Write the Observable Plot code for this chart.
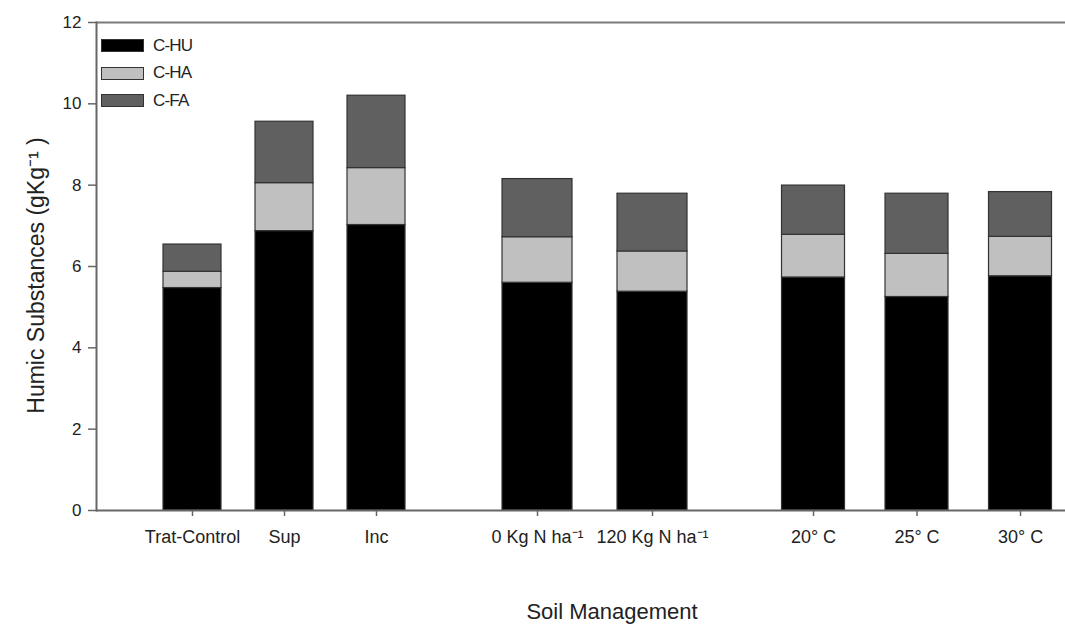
<!DOCTYPE html>
<html><head><meta charset="utf-8">
<script src="https://cdn.jsdelivr.net/npm/d3@7"></script>
<script src="https://cdn.jsdelivr.net/npm/@observablehq/plot@0.6"></script>
<style>
body{margin:0;background:#fff;font-family:"Liberation Sans",Arial,sans-serif;}
#wrap{position:relative;width:1065px;height:626px;}
#legend{position:absolute;left:101px;top:32px;}
.row{display:flex;align-items:center;height:27.5px;}
.sw{width:41px;height:11px;border:1.6px solid #333;box-sizing:content-box;}
.lb{margin-left:9px;font-size:17px;color:#222;letter-spacing:-0.8px;}
</style></head><body><div id="wrap"><div id="chart"></div><div id="legend"></div></div>
<script>
// ---- data ----
const groups = [["Trat-Control","Sup","Inc"],["0 Kg N ha⁻¹","120 Kg N ha⁻¹"],["20° C","25° C","30° C"]];
const categories = groups.flat();
const seriesNames = ["C-HU","C-HA","C-FA"];
const cHU = [5.47,6.87,7.02,5.60,5.38,5.73,5.25,5.76];
const cHA = [0.40,1.18,1.40,1.12,0.99,1.05,1.06,0.97];
const cFA = [0.67,1.51,1.78,1.43,1.42,1.21,1.48,1.10];
const yTicks = [0,2,4,6,8,10,12];
const yTitle = "Humic Substances (gKg⁻¹ )";
const xTitle = "Soil Management";

// ---- layout / style config ----
const seriesColors = ["#000000","#c0c0c0","#606060"];
const gridGaps = [8,8,14,10,14,9,9];      // spacing between successive bar centres, in grid units
const groupBarWidths = [58,70,63];         // bar width per group (px)
const W = 1065, H = 626, mL = 96, mR = 0, mT = 22, mB = 116;
const padOuter = 5.63, alignX = 0.697;

const seriesValues = [cHU, cHA, cFA];
const domainX = [];
categories.forEach((c,i)=>{
  if (i) for (let k=1;k<gridGaps[i-1];k++) domainX.push(`gap-${i}-${k}`);
  domainX.push(c);
});
const step = (W - mL - mR) / (domainX.length + 2*padOuter);
const data = categories.flatMap((c,i)=> seriesNames.map((s,j)=>({category:c, series:s, value:seriesValues[j][i]})));

const barMarks = groups.map((g,gi)=>{
  const inset = -(groupBarWidths[gi] - step)/2;
  return Plot.barY(data.filter(d=>g.includes(d.category)),
    Plot.stackY({x:"category", y:"value", fill:"series", stroke:"#333", strokeWidth:1.2, insetLeft:inset, insetRight:inset}));
});

const plot = Plot.plot({
  width:W, height:H, marginLeft:mL, marginRight:mR, marginTop:mT, marginBottom:mB,
  style:{fontFamily:'"Liberation Sans", Arial, sans-serif', color:"#222", background:"#fff"},
  x:{type:"band", domain:domainX, paddingInner:0, paddingOuter:padOuter, align:alignX},
  y:{domain:[0,12]},
  color:{domain:seriesNames, range:seriesColors},
  marks:[
    ...barMarks,
    Plot.ruleY([12], {stroke:"#7a7a7a", strokeWidth:2}),
    Plot.ruleY([0], {stroke:"#666", strokeWidth:2}),
    Plot.frame({anchor:"left", stroke:"#666", strokeWidth:2}),
    Plot.axisY({ticks:yTicks, tickSize:8, tickPadding:7, fontSize:17, stroke:"#666", strokeWidth:1.5, fill:"#222", label:null}),
    Plot.axisX({ticks:categories, tickSize:6, tickPadding:14, fontSize:18, stroke:"#666", strokeWidth:1.5, fill:"#222", label:null}),
    Plot.text([yTitle], {frameAnchor:"left", textAnchor:"middle", dx:-60, dy:9, rotate:-90, fontSize:23, fill:"#222"}),
    Plot.text([xTitle], {frameAnchor:"bottom", dx:31, dy:108, fontSize:22, fill:"#222"})
  ]
});
document.getElementById("chart").appendChild(plot);

const legend = document.getElementById("legend");
seriesNames.forEach((s,i)=>{
  const row = document.createElement("div"); row.className="row";
  const sw = document.createElement("div"); sw.className="sw"; sw.style.background = seriesColors[i];
  const lb = document.createElement("span"); lb.className="lb"; lb.textContent = s;
  row.appendChild(sw); row.appendChild(lb); legend.appendChild(row);
});
</script>
</body></html>
